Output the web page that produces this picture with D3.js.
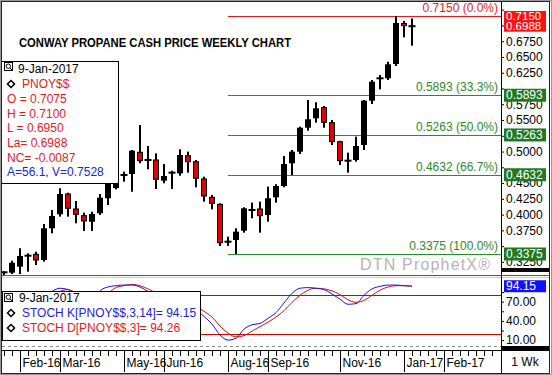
<!DOCTYPE html>
<html lang="en">
<head>
<meta charset="UTF-8">
<title>Conway Propane Weekly</title>
<script src="https://cdnjs.cloudflare.com/ajax/libs/d3/7.8.5/d3.min.js"></script>
<style type="text/css">
    body { margin: 0; background: #fff; }
    text { font-family: "Liberation Sans", Arial, sans-serif; }
</style>
</head>
<body>
<div id="chart"></div>
<script type="text/javascript">

    // weekly bars (week starting monday)
    var weeks = ["2016-01-18","2016-01-25","2016-02-01","2016-02-08","2016-02-15","2016-02-22","2016-02-29",
        "2016-03-07","2016-03-14","2016-03-21","2016-03-28","2016-04-04","2016-04-11","2016-04-18","2016-04-25",
        "2016-05-02","2016-05-09","2016-05-16","2016-05-23","2016-05-30","2016-06-06","2016-06-13","2016-06-20",
        "2016-06-27","2016-07-04","2016-07-11","2016-07-18","2016-07-25","2016-08-01","2016-08-08","2016-08-15",
        "2016-08-22","2016-08-29","2016-09-05","2016-09-12","2016-09-19","2016-09-26","2016-10-03","2016-10-10",
        "2016-10-17","2016-10-24","2016-10-31","2016-11-07","2016-11-14","2016-11-21","2016-11-28","2016-12-05",
        "2016-12-12","2016-12-19","2016-12-26","2017-01-02","2017-01-09"];

    var opens  = [0.3070,0.3079,0.3174,0.3348,0.3370,0.3280,0.3783,0.4005,0.4327,0.4089,0.3983,0.3887,0.4021,
        0.4259,0.4422,0.4628,0.4644,0.4988,0.4866,0.4866,0.4538,0.4665,0.4655,0.4934,0.4839,0.4565,0.4274,
        0.4163,0.3570,0.3597,0.3745,0.4073,0.4089,0.3994,0.4274,0.4454,0.4814,0.4998,0.5378,0.5527,0.5696,
        0.5458,0.5156,0.4855,0.4866,0.5104,0.5807,0.6162,0.6162,0.6389,0.7031,0.7000];
    var highs  = [0.3100,0.3269,0.3466,0.3386,0.3412,0.3851,0.4073,0.4417,0.4347,0.4216,0.4030,0.4046,0.4327,
        0.4601,0.4700,0.4681,0.5025,0.5421,0.5088,0.4972,0.4803,0.4696,0.5036,0.4998,0.4866,0.4601,0.4311,
        0.4179,0.3650,0.3783,0.4116,0.4189,0.4205,0.4443,0.4481,0.4930,0.5025,0.5394,0.5818,0.5781,0.5723,
        0.5501,0.5172,0.4982,0.5236,0.5818,0.6135,0.6214,0.6425,0.7150,0.7071,0.7110];
    var lows   = [0.3040,0.3058,0.3058,0.3095,0.3201,0.3253,0.3704,0.3967,0.3967,0.3862,0.3740,0.3740,0.3994,
        0.4152,0.4400,0.4522,0.4363,0.4814,0.4719,0.4406,0.4497,0.4406,0.4617,0.4665,0.4433,0.4205,0.4084,
        0.3502,0.3502,0.3375,0.3713,0.3941,0.3713,0.3887,0.4189,0.4433,0.4628,0.4961,0.5331,0.5458,0.5378,
        0.5104,0.4787,0.4665,0.4839,0.5025,0.5754,0.5987,0.6135,0.6357,0.6812,0.6679];
    var closes = [0.3085,0.3237,0.3343,0.3348,0.3280,0.3783,0.3978,0.4327,0.4100,0.4005,0.3899,0.4010,0.4268,
        0.4522,0.4612,0.4628,0.5014,0.4855,0.4866,0.4560,0.4612,0.4665,0.4945,0.4839,0.4576,0.4295,0.4179,
        0.3554,0.3570,0.3729,0.4100,0.4073,0.3983,0.4259,0.4454,0.4803,0.4998,0.5378,0.5512,0.5686,0.5464,
        0.5156,0.4855,0.4855,0.5088,0.5807,0.6108,0.6162,0.6384,0.7039,0.6996,0.6988];

    // stochastics
    var stochK = [22,35,52,62,62,76,86,91,89,78,68,65,87,93,95,96,96,93,86,78,72,68,70,68,58,
        47,35,18,10,13,27,34,36,44,53,68,83,91,92,91,89,82,74,66,67,80,90,94,96,96,95,94.15];
    var stochD = [25,28,36,50,58,66,78,86,89,84,78,70,72,83,92,95,97,95,90,84,78,72,70,69,63,
        55,46,32,21,15,17,24,31,38,46,56,69,80,88,91,90,87,81,73,69,72,80,88,93,95,95,94.26];

    var fibLevels = [0.7150, 0.5893, 0.5263, 0.4632, 0.3375];
    var fibLabels = ["0.7150 (0.0%)", "0.5893 (33.3%)", "0.5263 (50.0%)", "0.4632 (66.7%)", "0.3375 (100.0%)"];
    var fibStart = "2016-08-08";

    // axis ticks; labels hidden by the value boxes are left blank
    var priceTicks = [0.3250,0.3500,0.3750,0.4000,0.4250,0.4500,0.4750,0.5000,0.5250,0.5500,
        0.5750,0.6000,0.6250,0.6500,0.6750,0.7000,0.7250];
    var hiddenTicks = [0.3500,0.4750,0.5250,0.6000,0.7000,0.7250];
    var stochTicks = [10, 40, 70];
    var stochMinor = [25, 55, 85];
    var stochLevels = [80, 20];

    var monthLabels = ["Feb-16","Mar-16","May-16","Jun-16","Aug-16","Sep-16","Nov-16","Jan-17","Feb-17"];
    var monthDates  = ["2016-02-01","2016-03-07","2016-05-02","2016-06-06","2016-08-01","2016-09-05",
        "2016-11-07","2017-01-02","2017-02-06"];

    var legendLines = ["O = 0.7075", "H = 0.7100", "L = 0.6950", "La= 0.6988", "NC= -0.0087"];

    // sizes
    var w = 552, h = 375;
    var axisX = 501;
    var red = "#e41a1c", blue = "#2222d6", green = "#2b8a2b";

    var parse = d3.utcParse("%Y-%m-%d");

    var bars = weeks.map(function(d, i) {
        return {date: parse(d), o: opens[i], h: highs[i], l: lows[i], c: closes[i], k: stochK[i], d: stochD[i]};
    });

    var svg = d3.select("#chart")
        .append("svg")
        .attr("width", w)
        .attr("height", h);

    svg.append("rect").attr("width", w).attr("height", h).attr("fill", "#fff");

    var xScale = d3.scaleUtc()
        .domain([parse(weeks[0]), parse(weeks[weeks.length - 1])])
        .range([4, 412]);

    var yScale = d3.scaleLinear()
        .domain([0.3042, 0.7356])
        .range([275, 3]);

    var sScale = d3.scaleLinear()
        .domain([0, 100])
        .range([346.5, 282.5]);

    var defs = svg.append("defs");
    defs.append("clipPath").attr("id", "mainClip")
        .append("rect").attr("x", 2).attr("y", 2).attr("width", axisX - 2).attr("height", 273);
    defs.append("clipPath").attr("id", "stochClip")
        .append("rect").attr("x", 2).attr("y", 277).attr("width", axisX - 2).attr("height", 72);

    // Title
    svg.append("text")
        .attr("x", 19)
        .attr("y", 47)
        .attr("font-size", "13px")
        .attr("font-weight", "bold")
        .attr("textLength", 272)
        .attr("lengthAdjust", "spacingAndGlyphs")
        .text("CONWAY PROPANE CASH PRICE WEEKLY CHART");

    // Fibonacci lines
    var main = svg.append("g").attr("clip-path", "url(#mainClip)");
    var fibX = xScale(parse(fibStart)) - 8;

    fibLevels.forEach(function(v, i) {
        var col = i == 0 ? red : green;
        main.append("line")
            .attr("x1", fibX).attr("x2", axisX)
            .attr("y1", Math.round(yScale(v)) + 0.5).attr("y2", Math.round(yScale(v)) + 0.5)
            .attr("stroke", col)
            .attr("stroke-width", 1.2);
        main.append("text")
            .attr("x", 498)
            .attr("y", yScale(v) - 4)
            .attr("text-anchor", "end")
            .attr("font-size", "12px")
            .attr("fill", col)
            .text(fibLabels[i]);
    });

    main.append("text")
        .attr("x", 360)
        .attr("y", 270)
        .attr("font-family", "'Liberation Mono', monospace")
        .attr("font-size", "16px")
        .attr("fill", "#b4b4b4")
        .attr("textLength", 130)
        .text("DTN ProphetX\u00ae");

    // Candles
    var candle = main.selectAll("g.bar")
        .data(bars)
        .enter()
        .append("g")
        .attr("class", "bar");

    candle.append("rect")
        .attr("x", function(d) { return xScale(d.date) - 1; })
        .attr("y", function(d) { return yScale(d.h); })
        .attr("width", 2)
        .attr("height", function(d) { return yScale(d.l) - yScale(d.h); })
        .attr("fill", "#000");

    candle.append("rect")
        .attr("x", function(d) {
            if (Math.abs(d.o - d.c) < 0.002) return xScale(d.date) - 3.5;
            return d.c >= d.o ? xScale(d.date) - 3 : xScale(d.date) - 2.5;
        })
        .attr("y", function(d) {
            if (Math.abs(d.o - d.c) < 0.002) return yScale(d.c) - 1;
            return yScale(Math.max(d.o, d.c));
        })
        .attr("width", function(d) {
            if (Math.abs(d.o - d.c) < 0.002) return 7;
            return d.c >= d.o ? 6 : 5;
        })
        .attr("height", function(d) {
            if (Math.abs(d.o - d.c) < 0.002) return 2;
            return Math.abs(yScale(d.o) - yScale(d.c));
        })
        .attr("fill", function(d) {
            if (Math.abs(d.o - d.c) < 0.002) return "#000";
            return d.c >= d.o ? "#000" : "#e60000";
        })
        .attr("stroke", function(d) {
            return (d.c < d.o && Math.abs(d.o - d.c) >= 0.002) ? "#000" : "none";
        })
        .attr("stroke-width", 1);

    // Price legend
    var lg = svg.append("g");
    lg.append("rect")
        .attr("x", 1.5).attr("y", 61.5).attr("width", 117).attr("height", 122)
        .attr("fill", "#fff").attr("stroke", "#000");

    function drawIcon(g, x, y) {
        g.append("rect").attr("x", x + 0.5).attr("y", y + 0.5).attr("width", 8).attr("height", 8)
            .attr("fill", "#fff").attr("stroke", "#000");
        g.append("circle").attr("cx", x + 4.3).attr("cy", y + 4.2).attr("r", 2.2)
            .attr("fill", "none").attr("stroke", "#000");
        g.append("line").attr("x1", x + 6).attr("y1", y + 6).attr("x2", x + 8).attr("y2", y + 8)
            .attr("stroke", "#000");
    }
    function drawDiamond(g, x, y) {
        g.append("rect").attr("x", -2.5).attr("y", -2.5).attr("width", 5).attr("height", 5)
            .attr("transform", "translate(" + x + "," + y + ") rotate(45)")
            .attr("fill", "#fff").attr("stroke", "#000").attr("stroke-width", 1.5);
    }

    drawIcon(lg, 4, 62);
    lg.append("text").attr("x", 18).attr("y", 73).attr("font-size", "12px").text("9-Jan-2017");
    drawDiamond(lg, 11, 84);
    lg.append("text").attr("x", 22).attr("y", 88).attr("font-size", "12px").attr("fill", red).text("PNOY$$");
    legendLines.forEach(function(t, i) {
        lg.append("text").attr("x", 7).attr("y", 103 + i * 14.7).attr("font-size", "12px")
            .attr("fill", red).text(t);
    });
    lg.append("text").attr("x", 7).attr("y", 176).attr("font-size", "12px").attr("fill", blue)
        .text("A=56.1, V=0.7528");

    // Right price axis
    var yAxis = d3.axisRight(yScale)
        .tickValues(priceTicks)
        .tickSize(3)
        .tickPadding(2)
        .tickFormat(function(d) { return hiddenTicks.indexOf(d) >= 0 ? "" : d3.format(".4f")(d); });

    var ya = svg.append("g")
        .attr("transform", "translate(" + axisX + ",0)")
        .call(yAxis);
    ya.select(".domain").remove();
    ya.selectAll("text").attr("font-size", "12px").attr("font-family", "'Liberation Sans', Arial, sans-serif");

    // Value boxes on axis
    function valueBox(v, scale, col, label, hgt, size) {
        var yy = scale(v);
        svg.append("rect").attr("x", 504).attr("y", yy - hgt / 2).attr("width", 42).attr("height", hgt)
            .attr("fill", col);
        svg.append("text").attr("x", 506).attr("y", yy + 4.2).attr("font-size", (size || 12) + "px")
            .attr("fill", "#fff")
            .text(label);
    }
    valueBox(0.7150, yScale, "#ff1010", "0.7150", 10, 11.5);
    valueBox(0.6988, yScale, "#ff1010", "0.6988", 11, 11.5);
    fibLevels.slice(1).forEach(function(v) {
        valueBox(v, yScale, "#1f7a1f", d3.format(".4f")(v), 13);
    });

    // Separators
    svg.append("rect").attr("x", axisX).attr("y", 268).attr("width", 48).attr("height", 4).attr("fill", "#000");
    svg.append("line").attr("x1", 2).attr("x2", 550).attr("y1", 275.5).attr("y2", 275.5).attr("stroke", "#555");
    svg.append("line").attr("x1", 2).attr("x2", 550).attr("y1", 277.5).attr("y2", 277.5).attr("stroke", "#ccc");

    // Stochastic panel
    var sp = svg.append("g").attr("clip-path", "url(#stochClip)");

    stochLevels.forEach(function(v) {
        sp.append("line")
            .attr("x1", 2).attr("x2", axisX)
            .attr("y1", Math.round(sScale(v)) + 0.5).attr("y2", Math.round(sScale(v)) + 0.5)
            .attr("stroke", "#d40000");
    });

    sp.append("line")
        .attr("x1", 2).attr("x2", axisX)
        .attr("y1", 346.5).attr("y2", 346.5)
        .attr("stroke", "#888")
        .attr("stroke-dasharray", "3,3");

    var kLine = d3.line()
        .x(function(d) { return xScale(d.date); })
        .y(function(d) { return sScale(d.k); })
        .curve(d3.curveMonotoneX);
    var dLine = d3.line()
        .x(function(d) { return xScale(d.date); })
        .y(function(d) { return sScale(d.d); })
        .curve(d3.curveMonotoneX);

    sp.append("path").datum(bars).attr("d", dLine).attr("fill", "none").attr("stroke", "#e01010");
    sp.append("path").datum(bars).attr("d", kLine).attr("fill", "none").attr("stroke", "#1818e8");

    // Stoch legend
    var sl = svg.append("g");
    sl.append("rect")
        .attr("x", 2.5).attr("y", 291.5).attr("width", 198).attr("height", 49)
        .attr("fill", "#fff").attr("stroke", "#000");
    drawIcon(sl, 4, 293);
    sl.append("text").attr("x", 19).attr("y", 302).attr("font-size", "12px").text("9-Jan-2017");
    drawDiamond(sl, 11, 313);
    sl.append("text").attr("x", 22).attr("y", 317).attr("font-size", "12px").attr("fill", blue)
        .text("STOCH K[PNOY$$,3,14]= 94.15");
    drawDiamond(sl, 11, 328);
    sl.append("text").attr("x", 22).attr("y", 332).attr("font-size", "12px").attr("fill", red)
        .text("STOCH D[PNOY$$,3]= 94.26");

    // Stoch axis
    var sAxis = d3.axisRight(sScale)
        .tickValues(stochTicks.concat(stochMinor))
        .tickSize(3)
        .tickPadding(2)
        .tickFormat(function(d) { return stochTicks.indexOf(d) >= 0 ? d3.format(".2f")(d) : ""; });
    var sa = svg.append("g")
        .attr("transform", "translate(" + axisX + ",0)")
        .call(sAxis);
    sa.select(".domain").remove();
    sa.selectAll("text").attr("font-size", "12px").attr("font-family", "'Liberation Sans', Arial, sans-serif");

    valueBox(stochK[stochK.length - 1], sScale, "#1010ff", d3.format(".2f")(stochK[stochK.length - 1]), 12);

    svg.append("rect").attr("x", axisX).attr("y", 346).attr("width", 48).attr("height", 4).attr("fill", "#000");
    svg.append("line").attr("x1", 2).attr("x2", 550).attr("y1", 350.5).attr("y2", 350.5).attr("stroke", "#000");

    // Time axis
    var weekTicks = d3.utcMonday.range(parse(weeks[0]), parse("2017-03-21"));
    var xAxis = d3.axisBottom(xScale)
        .tickValues(weekTicks)
        .tickSize(5)
        .tickFormat("");
    var xa = svg.append("g")
        .attr("transform", "translate(0,351)")
        .call(xAxis);
    xa.select(".domain").remove();

    monthDates.forEach(function(d, i) {
        var xx = Math.round(xScale(parse(d))) + 0.5;
        svg.append("line").attr("x1", xx).attr("x2", xx).attr("y1", 351).attr("y2", 372).attr("stroke", "#000");
        svg.append("text").attr("x", xx + 2).attr("y", 367).attr("font-size", "12px").text(monthLabels[i]);
    });

    // Axis column divider and "1 Wk"
    svg.append("line").attr("x1", axisX + 0.5).attr("x2", axisX + 0.5).attr("y1", 2).attr("y2", 373)
        .attr("stroke", "#000");
    svg.append("text")
        .attr("x", 525).attr("y", 366)
        .attr("text-anchor", "middle")
        .attr("font-family", "'Liberation Mono', monospace")
        .attr("font-size", "12px")
        .text("1 Wk");

    // Outer border
    svg.append("rect").attr("x", 0.5).attr("y", 0.5).attr("width", w - 1).attr("height", h - 1)
        .attr("fill", "none").attr("stroke", "#999");
    svg.append("rect").attr("x", 1.5).attr("y", 1.5).attr("width", w - 4).attr("height", h - 3)
        .attr("fill", "none").attr("stroke", "#222");

</script>
</body>
</html>
